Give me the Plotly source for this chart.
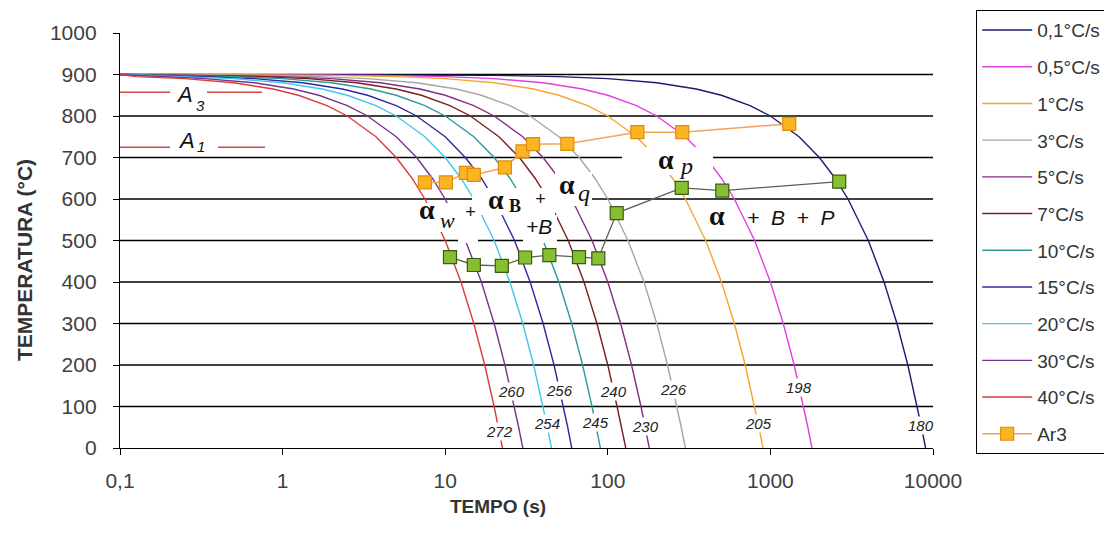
import numpy as np
import plotly.graph_objects as go

# ---------------- data ----------------
rate_names = ["0,1°C/s", "0,5°C/s", "1°C/s", "3°C/s", "5°C/s", "7°C/s",
              "10°C/s", "15°C/s", "20°C/s", "30°C/s", "40°C/s"]
# temperature levels along each cooling curve (°C)
temps = [900, 898, 895, 890, 880, 865, 850, 825, 800, 750, 700, 650, 600,
         500, 400, 300, 200, 100, 50, 0]
# time (s) at which each curve reaches the levels above
t_r01 = [0.1, 20, 50, 100, 200, 350, 500, 750, 1000, 1500, 2000, 2500, 3000, 4000, 5000, 6000, 7000, 8000, 8500, 9000]
t_r05 = [0.1, 4, 10, 20, 40, 70, 100, 150, 200, 300, 400, 500, 600, 800, 1000, 1200, 1400, 1600, 1700, 1800]
t_r1 = [0.1, 2, 5, 10, 20, 35, 50, 75, 100, 150, 200, 250, 300, 400, 500, 600, 700, 800, 850, 900]
t_r3 = [0.1, 0.67, 1.67, 3.33, 6.67, 11.7, 16.7, 25, 33.3, 50, 66.7, 83.3, 100, 133, 167, 200, 233, 267, 283, 300]
t_r5 = [0.1, 0.4, 1, 2, 4, 7, 10, 15, 20, 30, 40, 50, 60, 80, 100, 120, 140, 160, 170, 180]
t_r7 = [0.1, 0.29, 0.71, 1.43, 2.86, 5, 7.14, 10.7, 14.3, 21.4, 28.6, 35.7, 42.9, 57.1, 71.4, 85.7, 100, 114, 121, 129]
t_r10 = [0.1, 0.2, 0.5, 1, 2, 3.5, 5, 7.5, 10, 15, 20, 25, 30, 40, 50, 60, 70, 80, 85, 90]
t_r15 = [0.1, 0.13, 0.33, 0.67, 1.33, 2.33, 3.33, 5, 6.67, 10, 13.3, 16.7, 20, 26.7, 33.3, 40, 46.7, 53.3, 56.7, 60]
t_r20 = [0.1, None, 0.25, 0.5, 1, 1.75, 2.5, 3.75, 5, 7.5, 10, 12.5, 15, 20, 25, 30, 35, 40, 42.5, 45]
t_r30 = [0.1, None, 0.17, 0.33, 0.67, 1.17, 1.67, 2.5, 3.33, 5, 6.67, 8.33, 10, 13.3, 16.7, 20, 23.3, 26.7, 28.3, 30]
t_r40 = [0.1, None, 0.125, 0.25, 0.5, 0.875, 1.25, 1.875, 2.5, 3.75, 5, 6.25, 7.5, 10, 12.5, 15, 17.5, 20, 21.25, 22.5]
curve_times = [t_r01, t_r05, t_r1, t_r3, t_r5, t_r7, t_r10, t_r15, t_r20, t_r30, t_r40]

# hardness labels at the end of each curve, and the temperature where they sit
hardness = [180, 198, 205, 226, 230, 240, 245, 256, 254, 260, 272]
hardness_temp = [55, 145, 58, 140, 51, 136, 61, 138, 58, 136, 39]

# Ar3 (transformation start) points
ar3_t = [7.5, 10.1, 13.4, 15.0, 23.3, 29.9, 34.7, 56.4, 152, 287, 1306]
ar3_T = [640, 640, 663, 658, 676, 715, 732, 733, 761, 761, 781]
# second (green) line
ar1_t = [10.7, 15.0, 22.3, 31.0, 43.7, 66.5, 87.4, 113.4, 285, 506, 2650]
ar1_T = [460, 441, 439, 459, 465, 460, 457, 566, 627, 620, 642]

A3_T = 857
A1_T = 725
x_ticks = [0.1, 1, 10, 100, 1000, 10000]
x_ticktext = ["0,1", "1", "10", "100", "1000", "10000"]
y_ticks = list(range(0, 1001, 100))

# ---------------- styles ----------------
colors = ["#1c1c6e", "#e040e0", "#f0a830", "#a6a6a6", "#862d86", "#7a1f1f",
          "#2e9a9a", "#2b2b9e", "#40c8e8", "#7a3290", "#dd3b3b"]

FW, FH = 1112, 536
OFF = 8                      # page body margin
L, R, T, B = 120, 933, 33, 448   # plot box on screen
W_PX, H_PX = R - L, B - T


def px(xp):
    return (xp - L) / W_PX


def py(yp):
    return (B - yp) / H_PX


fig = go.Figure()
pad = "\u00a0"

for name, tt, col in zip(rate_names, curve_times, colors):
    xs = [a for a in tt if a is not None]
    ys = [b for a, b in zip(tt, temps) if a is not None]
    fig.add_trace(go.Scatter(x=xs, y=ys, mode="lines", name=name + pad,
                             line=dict(color=col, width=1.4),
                             legendgroup=name, hoverinfo="skip"))

fig.add_trace(go.Scatter(x=ar1_t, y=ar1_T, mode="lines+markers", showlegend=False,
                         line=dict(color="#55664a", width=1.3),
                         marker=dict(symbol="square", size=13, color="#86bf32",
                                     line=dict(color="#3d5a14", width=1.2))))
fig.add_trace(go.Scatter(x=ar3_t, y=ar3_T, mode="lines+markers", name="Ar3" + pad,
                         legendgroup="Ar3",
                         line=dict(color="#f2a35e", width=1.5),
                         marker=dict(symbol="square", size=13, color="#fbb520",
                                     line=dict(color="#e08a10", width=1.2))))

shapes = []
for yv in y_ticks[1:-1]:
    shapes.append(dict(type="line", xref="paper", yref="y", x0=0, x1=1, y0=yv, y1=yv,
                       line=dict(color="black", width=1.3), layer="below"))
# white masks behind the phase labels (screen px boxes)
for (x0, x1, y0, y1) in [(412, 458, 203, 232), (458, 478, 205, 243), (472, 555, 188, 215),
                         (523, 557, 215, 243), (555, 592, 172, 206), (622, 713, 147, 175)]:
    shapes.append(dict(type="rect", xref="paper", yref="paper", x0=px(x0), x1=px(x1),
                       y0=py(y1), y1=py(y0), line=dict(width=0), fillcolor="white",
                       layer="above"))
# A3 / A1 lines
for (a, b), yv in [((120, 170), A3_T), ((207, 262), A3_T), ((120, 170), A1_T), ((218, 265), A1_T)]:
    shapes.append(dict(type="line", xref="paper", yref="y", x0=px(a), x1=px(b), y0=yv, y1=yv,
                       line=dict(color="#d04848", width=1.5), layer="above"))

ann = []
# hardness labels placed on the curves
for hv, ht, tt in zip(hardness, hardness_temp, curve_times):
    xs = [a for a in tt if a is not None]
    ys = [b for a, b in zip(tt, temps) if a is not None]
    lx = np.interp(ht, ys[::-1], np.log10(xs)[::-1])
    ann.append(dict(x=lx, y=ht, xref="x", yref="y", text="<i>%d</i>" % hv, showarrow=False,
                    xanchor="center", yanchor="middle",
                    font=dict(family="Liberation Sans", size=15, color="#222"),
                    bgcolor="white", borderpad=0))

serif = "Liberation Serif"
sans = "Liberation Sans"


def lab(text, xp, yp, size=28, fam=serif):
    ann.append(dict(x=px(xp), y=py(yp), xref="paper", yref="paper", text=text,
                    showarrow=False, xanchor="center", yanchor="middle",
                    font=dict(family=fam, size=size, color="#111"), borderpad=0))


lab("<b>α</b>", 427, 209)
lab("<i>w</i>", 447, 220, size=22)
lab("<i>+</i>", 470, 212, size=18, fam=sans)
lab("<b>α</b>", 496, 199)
lab("<b>B</b>", 515, 206, size=18)
lab("<i>+</i>", 540, 199, size=18, fam=sans)
lab("<i>+B</i>", 539, 226, size=21, fam=sans)
lab("<b>α</b>", 567, 184)
lab("<i>q</i>", 584, 193, size=24)
lab("<b>α</b>", 666, 159)
lab("<i>p</i>", 686, 166, size=24)
lab("<b>α</b>", 717, 215)
lab("<i>+\u00a0\u00a0B\u00a0\u00a0+\u00a0\u00a0P</i>", 791, 217, size=21, fam=sans)
lab("<i>A</i>", 184, 94, size=22, fam=sans)
lab("<i>3</i>", 200, 105, size=15, fam=sans)
lab("<i>A</i>", 186, 140, size=22, fam=sans)
lab("<i>1</i>", 201, 146, size=15, fam=sans)

# axis titles
ann.append(dict(x=px(24), y=py(260), xref="paper", yref="paper", text="<b>TEMPERATURA (°C)</b>",
                textangle=-90, showarrow=False, xanchor="center", yanchor="middle",
                font=dict(family=sans, size=21, color="#333")))
ann.append(dict(x=px(498), y=py(506), xref="paper", yref="paper", text="<b>TEMPO (s)</b>",
                showarrow=False, xanchor="center", yanchor="middle",
                font=dict(family=sans, size=19, color="#333")))

fig.update_layout(
    width=FW, height=FH,
    margin=dict(l=L - OFF, r=FW - (R - OFF), t=T - OFF, b=FH - (B - OFF), autoexpand=False),
    paper_bgcolor="white", plot_bgcolor="white",
    shapes=shapes, annotations=ann,
    showlegend=True,
    legend=dict(xref="container", yref="container",
                x=(976 - OFF) / FW, y=1 - (10 - OFF) / FH, xanchor="left", yanchor="top",
                bordercolor="black", borderwidth=1.2, bgcolor="white",
                font=dict(family=sans, size=19, color="#333"),
                traceorder="grouped", tracegroupgap=9, itemwidth=50, maxheight=1.0),
    xaxis=dict(type="log", range=[-1, 4], tickvals=x_ticks, ticktext=x_ticktext,
               showgrid=False, zeroline=False, showline=True, linecolor="black", linewidth=1.3,
               ticks="outside", ticklen=6, tickcolor="black", tickwidth=1.3,
               ticklabelstandoff=8,
               tickfont=dict(family=sans, size=21, color="#404040")),
    yaxis=dict(range=[0, 1000], tickvals=y_ticks, showgrid=False, zeroline=False,
               showline=True, linecolor="black", linewidth=1.3,
               ticks="outside", ticklen=6, tickcolor="black", tickwidth=1.3,
               ticklabelstandoff=12,
               tickfont=dict(family=sans, size=21, color="#404040")),
)

fig.write_html("out.html")
